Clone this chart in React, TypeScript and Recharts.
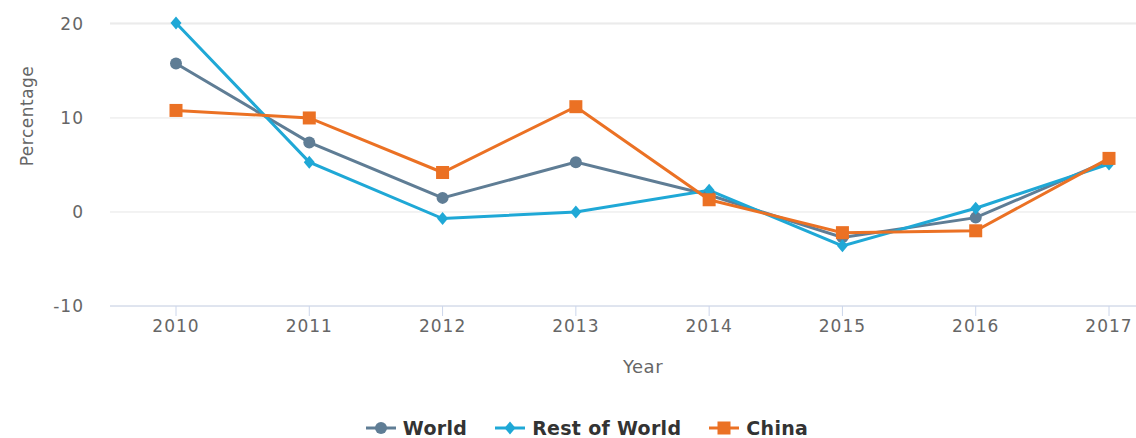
import React from "react";
import {
  LineChart,
  Line,
  XAxis,
  YAxis,
  CartesianGrid,
  Legend,
  Label,
} from "recharts";

const years = ["2010", "2011", "2012", "2013", "2014", "2015", "2016", "2017"];
const world = [15.8, 7.4, 1.5, 5.3, 1.8, -2.7, -0.6, 5.5];
const restOfWorld = [20.1, 5.3, -0.7, 0.0, 2.3, -3.6, 0.4, 5.1];
const china = [10.8, 10.0, 4.2, 11.2, 1.3, -2.2, -2.0, 5.7];
const yTicks = [-10, 0, 10, 20];

const data = years.map((y, i) => ({
  year: y,
  World: world[i],
  "Rest of World": restOfWorld[i],
  China: china[i],
}));

const series = [
  { key: "World", color: "#5f7d95", shape: "circle" },
  { key: "Rest of World", color: "#1fa8d6", shape: "diamond" },
  { key: "China", color: "#eb7124", shape: "square" },
];

const FONT = "'DejaVu Sans', sans-serif";
const TEXT = "#666666";

function Marker({ cx, cy, shape, color }: any) {
  if (cx == null || cy == null) return null;
  if (shape === "circle") return <circle cx={cx} cy={cy} r={6} fill={color} />;
  if (shape === "diamond")
    return (
      <path
        d={`M${cx} ${cy - 6.5} L${cx + 5.5} ${cy} L${cx} ${cy + 6.5} L${cx - 5.5} ${cy} Z`}
        fill={color}
      />
    );
  return <rect x={cx - 6.5} y={cy - 6.5} width={13} height={13} fill={color} />;
}

const renderLegend = () => (
  <div
    style={{
      display: "flex",
      justifyContent: "center",
      alignItems: "center",
      height: 24,
      gap: 28,
      fontFamily: FONT,
      fontWeight: "bold",
      fontSize: 19,
      letterSpacing: 0.3,
      color: "#333333",
      paddingLeft: 38,
    }}
  >
    {series.map((s) => (
      <div key={s.key} style={{ display: "flex", alignItems: "center" }}>
        <svg width={30} height={14} style={{ marginRight: 7 }}>
          <line x1={0} y1={7} x2={30} y2={7} stroke={s.color} strokeWidth={3} />
          <Marker cx={15} cy={7} shape={s.shape} color={s.color} />
        </svg>
        <span>{s.key}</span>
      </div>
    ))}
  </div>
);

export default function App() {
  return (
    <div style={{ position: "absolute", left: 0, top: 0, background: "#fff" }}>
      <LineChart
        width={1136}
        height={438}
        data={data}
        margin={{ top: 23, right: 0, bottom: 0, left: 0 }}
      >
        <CartesianGrid vertical={false} stroke="#e6e6e6" />
        <XAxis
          dataKey="year"
          scale="point"
          padding={{ left: 66, right: 27 }}
          height={108}
          tickSize={10}
          tickMargin={4}
          stroke="#ccd6eb"
          tick={{ fill: TEXT, fontSize: 17, fontFamily: FONT, letterSpacing: 1 }}
        >
          <Label
            content={({ viewBox }: any) => (
              <text
                x={viewBox.x + viewBox.width / 2 + 20}
                y={368}
                textAnchor="middle"
                dominantBaseline="middle"
                fill={TEXT}
                fontSize={18}
                fontFamily={FONT}
                letterSpacing={0.5}
              >
                Year
              </text>
            )}
          />
        </XAxis>
        <YAxis
          width={110}
          domain={[-10, 20]}
          ticks={yTicks}
          axisLine={false}
          tickLine={false}
          tickSize={0}
          tickMargin={26}
          tick={{ fill: TEXT, fontSize: 17, fontFamily: FONT, letterSpacing: 1 }}
        >
          <Label
            content={() => (
              <text
                x={28}
                y={116}
                transform="rotate(-90 28 116)"
                textAnchor="middle"
                dominantBaseline="middle"
                fill={TEXT}
                fontSize={17}
                fontFamily={FONT}
                letterSpacing={0.5}
              >
                Percentage
              </text>
            )}
          />
        </YAxis>
        <Legend verticalAlign="bottom" content={renderLegend} wrapperStyle={{ bottom: -2 }} />
        {series.map((s) => (
          <Line
            key={s.key}
            dataKey={s.key}
            stroke={s.color}
            strokeWidth={3}
            dot={(p: any) => <Marker key={p.index} cx={p.cx} cy={p.cy} shape={s.shape} color={s.color} />}
            activeDot={false}
            isAnimationActive={false}
          />
        ))}
      </LineChart>
    </div>
  );
}
